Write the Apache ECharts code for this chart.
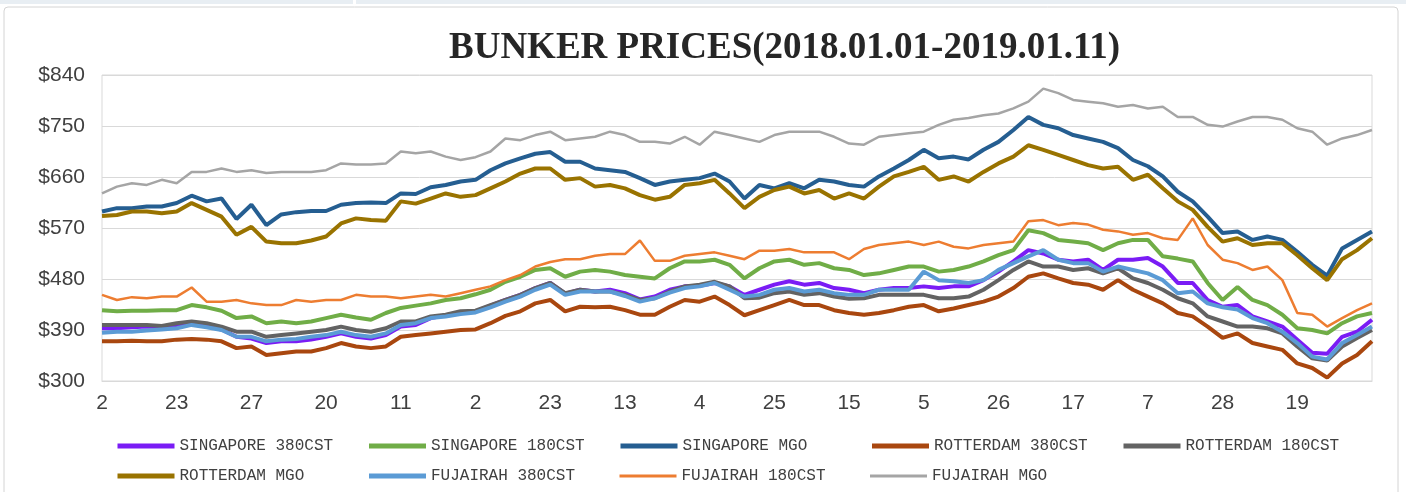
<!DOCTYPE html>
<html><head><meta charset="utf-8">
<script src="https://cdn.jsdelivr.net/npm/echarts@6/dist/echarts.min.js"></script>
<style>html,body{margin:0;padding:0;background:#fff}#c{width:1406px;height:492px}</style>
</head><body><div id="c"></div><script>
// x-axis tick labels (day of month, every 5th sample)
const tickLabels = ['2','23','27','20','11','2','23','13','4','25','15','5','26','17','7','28','19'];
const seriesNames = ['SINGAPORE 380CST','SINGAPORE 180CST','SINGAPORE MGO','ROTTERDAM 380CST','ROTTERDAM 180CST','ROTTERDAM MGO','FUJAIRAH 380CST','FUJAIRAH 180CST','FUJAIRAH MGO'];

const sin380 = [393,393,395,396,395,397,402,397,391,378,
  375,367,370,370,373,378,384,378,375,381,
  396,399,411,416,421,423,433,443,452,464,
  473,454,461,458,461,455,444,449,461,467,
  468,473,467,452,461,470,476,470,473,464,
  461,455,461,464,464,467,464,467,467,478,
  493,511,531,525,514,511,514,496,514,514,
  517,502,473,473,443,431,434,414,405,396,
  373,350,348,378,387,408];
const sin180 = [425,423,424,424,425,425,434,430,424,411,
  414,402,405,402,405,411,417,412,408,420,
  429,433,437,443,446,453,461,475,484,496,
  499,484,493,496,493,487,484,481,499,511,
  511,514,505,481,499,511,514,505,508,499,
  496,487,490,496,502,502,493,496,502,511,
  522,531,566,561,549,546,543,531,543,549,
  549,520,516,511,473,443,466,443,434,417,
  393,390,384,402,414,420];
const sinMgo = [599,605,605,608,608,614,627,617,622,586,
  611,575,594,598,600,600,611,614,615,614,
  631,630,642,646,652,655,672,684,693,701,
  704,687,687,675,672,669,658,646,652,655,
  658,666,652,622,646,640,649,640,655,652,
  646,643,661,675,690,708,693,696,691,708,
  722,743,766,752,746,734,728,722,711,690,
  679,661,634,617,590,561,564,549,555,549,
  528,505,486,534,549,564];
const rot380 = [370,370,371,370,370,373,374,373,370,358,
  361,346,349,352,352,358,367,361,358,361,
  378,381,384,387,390,391,402,415,423,437,
  443,423,431,430,431,425,417,417,431,443,
  440,449,434,416,425,434,443,434,434,425,
  420,417,420,425,431,434,423,428,434,440,
  449,464,484,490,481,473,470,461,478,461,
  449,437,420,414,396,376,384,367,361,355,
  331,323,306,331,346,370];
const rot180 = [399,399,399,399,397,402,405,402,396,387,
  387,378,381,384,387,390,396,390,387,393,
  405,405,414,417,423,424,434,443,452,464,
  473,455,461,458,458,452,443,446,458,467,
  470,475,467,446,447,455,458,452,455,449,
  445,446,452,452,452,452,446,446,449,461,
  478,496,511,502,502,496,499,490,499,481,
  473,461,446,437,414,405,396,396,393,384,
  361,340,336,361,376,390];
const rotMgo = [591,593,599,599,596,599,614,602,590,558,
  572,546,543,543,548,555,578,587,584,583,
  617,613,622,631,625,628,640,652,666,675,
  675,655,658,643,646,640,628,620,625,646,
  649,655,631,605,625,637,643,631,637,622,
  631,622,643,661,669,678,655,661,652,669,
  684,696,716,708,699,690,681,675,678,655,
  664,640,617,602,572,546,552,540,543,543,
  522,499,478,515,531,552];
const fuj380 = [385,387,387,389,391,393,399,395,390,378,
  378,370,373,374,378,381,387,381,378,384,
  399,402,411,414,418,421,430,440,449,461,
  470,452,458,458,458,450,440,446,456,464,
  467,473,461,449,452,461,464,458,461,455,
  452,452,461,461,461,493,478,476,473,478,
  496,508,520,531,514,508,508,493,502,496,
  490,478,455,458,437,430,426,411,402,387,
  367,343,338,367,381,396];
const fuj180 = [452,443,448,446,449,449,465,440,440,443,
  437,434,434,443,440,443,443,452,449,449,
  446,449,452,449,455,461,467,478,487,502,
  510,515,515,521,524,524,548,512,512,521,
  524,527,521,515,530,530,533,527,527,527,
  515,533,540,543,546,540,546,537,534,540,
  543,546,582,584,575,579,576,567,564,558,
  561,552,549,587,540,514,508,496,502,478,
  420,417,396,411,425,437];
const fujMgo = [631,643,649,646,655,649,669,669,675,669,
  672,667,669,669,669,672,684,682,682,684,
  705,702,705,696,690,695,705,728,725,734,
  740,725,728,731,740,734,722,722,719,731,
  717,740,734,728,722,734,740,740,740,731,
  719,717,731,734,737,740,752,761,764,769,
  772,781,793,816,808,796,793,790,784,787,
  781,784,766,766,752,749,758,766,766,761,
  746,740,717,728,734,743];

const categories = sin380.map((_, i) => 'p' + i);
const allData = [sin380, sin180, sinMgo, rot380, rot180, rotMgo, fuj380, fuj180, fujMgo];
const colors = ['#7A1CF5','#70AD47','#255E91','#A9470F','#636363','#997300','#5B9BD5','#ED7D31','#A5A5A5'];
const widths = [4,4,4,4,4,4,4,2.5,2.5];
const legendWidths = [5,5,5,5,5,5,5,3,3];

const chart = echarts.init(document.getElementById('c'), null, {renderer:'canvas'});
chart.setOption({
  animation: false,
  backgroundColor: '#ffffff',
  graphic: [
    {type:'rect', shape:{x:0,y:0,width:353,height:4}, style:{fill:'#E8EEF3'}},
    {type:'rect', shape:{x:356,y:0,width:1050,height:4}, style:{fill:'#E8EEF3'}},
    {type:'rect', shape:{x:4,y:7,width:1394,height:492,r:4}, style:{fill:'none', stroke:'#D4D4D4', lineWidth:1}}
  ],
  title: {
    text: 'BUNKER PRICES(2018.01.01-2019.01.11)',
    left: 444, top: 25,
    textStyle: {fontFamily:'Liberation Serif', fontWeight:'bold', fontSize:37, color:'#262626'}
  },
  grid: {left:102, right:34, top:75, bottom:111, show:true, borderColor:'#D9D9D9', borderWidth:1},
  xAxis: {
    type:'category', data: categories, boundaryGap:false,
    axisLine:{show:true, lineStyle:{color:'#D9D9D9'}},
    axisTick:{show:false},
    axisLabel:{interval:4, margin:12, fontFamily:'Liberation Sans', fontSize:21, color:'#404040',
      formatter:(v, i) => (i % 5 === 0 ? tickLabels[i / 5] : '')}
  },
  yAxis: {
    type:'value', min:300, max:840, interval:90,
    axisLine:{show:false}, axisTick:{show:false},
    splitLine:{lineStyle:{color:'#D9D9D9'}},
    axisLabel:{margin:17, fontFamily:'Liberation Sans', fontSize:21, color:'#404040', formatter: v => '$' + v}
  },
  legend: {
    data: seriesNames.map((n, i) => ({name:n, lineStyle:{width:legendWidths[i]}})),
    left:115, top:436, width:1280, padding:0,
    itemWidth:57, itemHeight:14, itemGap:10,
    itemStyle:{opacity:0},
    lineStyle:{width:'inherit'},
    textStyle:{fontFamily:'Liberation Mono', fontSize:16, color:'#404040', width:177, lineHeight:20}
  },
  series: seriesNames.map((n, i) => ({
    name:n, type:'line', data: allData[i], symbol:'none', smooth:false,
    lineStyle:{width:widths[i], color:colors[i]}, itemStyle:{color:colors[i]}
  }))
});
</script></body></html>
